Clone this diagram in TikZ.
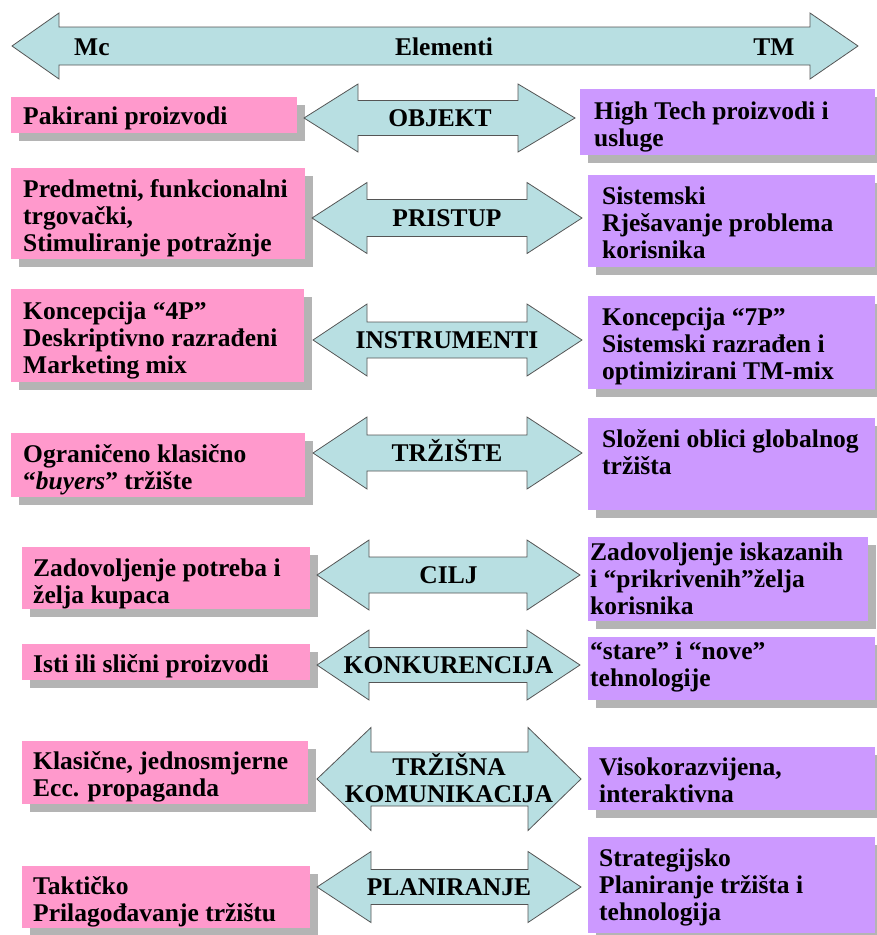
\documentclass[tikz,border=0pt]{standalone}
\usepackage{fontspec}
\setmainfont{Liberation Serif}
\definecolor{pinkc}{RGB}{255,153,204}
\definecolor{purpc}{RGB}{204,153,255}
\definecolor{arrc}{RGB}{184,223,226}
\definecolor{shadc}{RGB}{180,180,180}
\definecolor{linec}{RGB}{85,85,85}
\newcommand\fnt{\fontsize{25.5}{27}\selectfont\bfseries}
% box: name, colour, x1, y1, x2, y2
\newcommand\mybox[6]{%
  \fill[shadc] (#3+8,#4+8) rectangle (#5+8,#6+8);
  \node[boxn, fill=#2, minimum width={#5-#3}, minimum height={#6-#4}] (#1) at (#3,#4) {};}
% text: name, x, first baseline, text
\newcommand\mytext[4]{%
  \node[txt] (#1) at (#2,#3-22) {\rule{0pt}{24pt}#4};}
% double arrow: xl, xbl, xbr, xr, cy, head half height, shaft half height
\newcommand\dblarrow[7]{%
  \draw[arr] (#1,#5) -- (#2,#5-#6) -- (#2,#5-#7) -- (#3,#5-#7) -- (#3,#5-#6) -- (#4,#5)
    -- (#3,#5+#6) -- (#3,#5+#7) -- (#2,#5+#7) -- (#2,#5+#6) -- cycle;}
\tikzset{
  boxn/.style={anchor=north west, inner sep=0pt, outer sep=0pt, draw=none},
  txt/.style={anchor=north west, align=left, inner sep=0pt, font=\fnt},
  lbl/.style={anchor=base, inner sep=0pt, font=\fnt},
  arr/.style={fill=arrc, draw=linec, line width=0.8pt, line join=miter},
}
\begin{document}
\begin{tikzpicture}[x=1pt,y=-1pt]
\useasboundingbox (0,0) rectangle (877,935);
% top arrow
\dblarrow{12}{59}{810}{858}{46}{33}{19}
\node[lbl, anchor=base west] (mc) at (74,55) {Mc};
\node[lbl] (el) at (444,55) {Elementi};
\node[lbl] (tm) at (774,55) {TM};
% row 1
\mybox{p1}{pinkc}{11}{97}{297}{133}
\mybox{v1}{purpc}{580}{89}{875}{155}
\dblarrow{304}{358}{518}{575}{118}{34}{17.5}
\node[lbl] (a1) at (440,126) {OBJEKT};
\mytext{p1t}{23}{122}{Pakirani proizvodi}
\mytext{v1t}{594}{117}{High Tech proizvodi i\\usluge}
% row 2
\mybox{p2}{pinkc}{11}{168}{305}{259}
\mybox{v2}{purpc}{588}{175}{875}{267}
\dblarrow{312}{367}{527}{582}{218}{35.5}{18.5}
\node[lbl] (a2) at (447,226) {PRISTUP};
\mytext{p2t}{23}{195}{Predmetni, funkcionalni\\trgovački,\\Stimuliranje potražnje}
\mytext{v2t}{602}{202}{Sistemski\\Rješavanje problema\\korisnika}
% row 3
\mybox{p3}{pinkc}{11}{289}{304}{382}
\mybox{v3}{purpc}{588}{296}{875}{389}
\dblarrow{313}{367}{527}{582}{340}{36}{18}
\node[lbl] (a3) at (447,348) {INSTRUMENTI};
\mytext{p3t}{23}{317}{Koncepcija “4P”\\Deskriptivno razrađeni\\Marketing mix}
\mytext{v3t}{602}{323}{Koncepcija “7P”\\Sistemski razrađen i\\optimizirani TM-mix}
% row 4
\mybox{p4}{pinkc}{11}{433}{305}{497}
\mybox{v4}{purpc}{588}{418}{875}{510}
\dblarrow{313}{367}{527}{582}{453}{36}{18}
\node[lbl] (a4) at (447,461) {TRŽIŠTE};
\mytext{p4t}{23}{460}{Ograničeno klasično\\“\textit{buyers}” tržište}
\mytext{v4t}{602}{445}{Složeni oblici globalnog\\tržišta}
% row 5
\mybox{p5}{pinkc}{22}{547}{310}{609}
\mybox{v5}{purpc}{588}{537}{868}{621}
\dblarrow{317}{369}{527}{580}{575}{35}{18}
\node[lbl] (a5) at (448.5,583) {CILJ};
\mytext{p5t}{33}{574}{Zadovoljenje potreba i\\želja kupaca}
\mytext{v5t}{590}{558}{Zadovoljenje iskazanih\\i “prikrivenih”želja\\korisnika}
% row 6
\mybox{p6}{pinkc}{22}{644}{310}{680}
\mybox{v6}{purpc}{588}{637}{875}{700}
\dblarrow{317}{369}{527}{580}{665}{35}{17.5}
\node[lbl] (a6) at (448.5,673) {KONKURENCIJA};
\mytext{p6t}{33}{670}{Isti ili slični proizvodi}
\mytext{v6t}{590}{657}{“stare” i “nove”\\tehnologije}
% row 7
\mybox{p7}{pinkc}{22}{741}{308}{804}
\mybox{v7}{purpc}{588}{747}{875}{810}
\dblarrow{317}{371}{528}{581}{779}{51.5}{27}
\node[txt, anchor=north, align=center] (a7) at (449,775-24) {\rule{0pt}{24pt}TRŽIŠNA\\KOMUNIKACIJA};
\mytext{p7t}{33}{767}{Klasične, jednosmjerne\\Ecc. propaganda}
\mytext{v7t}{599}{773}{Visokorazvijena,\\interaktivna}
% row 8
\mybox{p8}{pinkc}{22}{866}{310}{928}
\mybox{v8}{purpc}{588}{837}{875}{933}
\dblarrow{317}{371}{528}{581}{887}{35.5}{17.5}
\node[lbl] (a8) at (449,895) {PLANIRANJE};
\mytext{p8t}{33}{892}{Taktičko\\Prilagođavanje tržištu}
\mytext{v8t}{599}{864}{Strategijsko\\Planiranje tržišta i\\tehnologija}
\end{tikzpicture}
\end{document}
